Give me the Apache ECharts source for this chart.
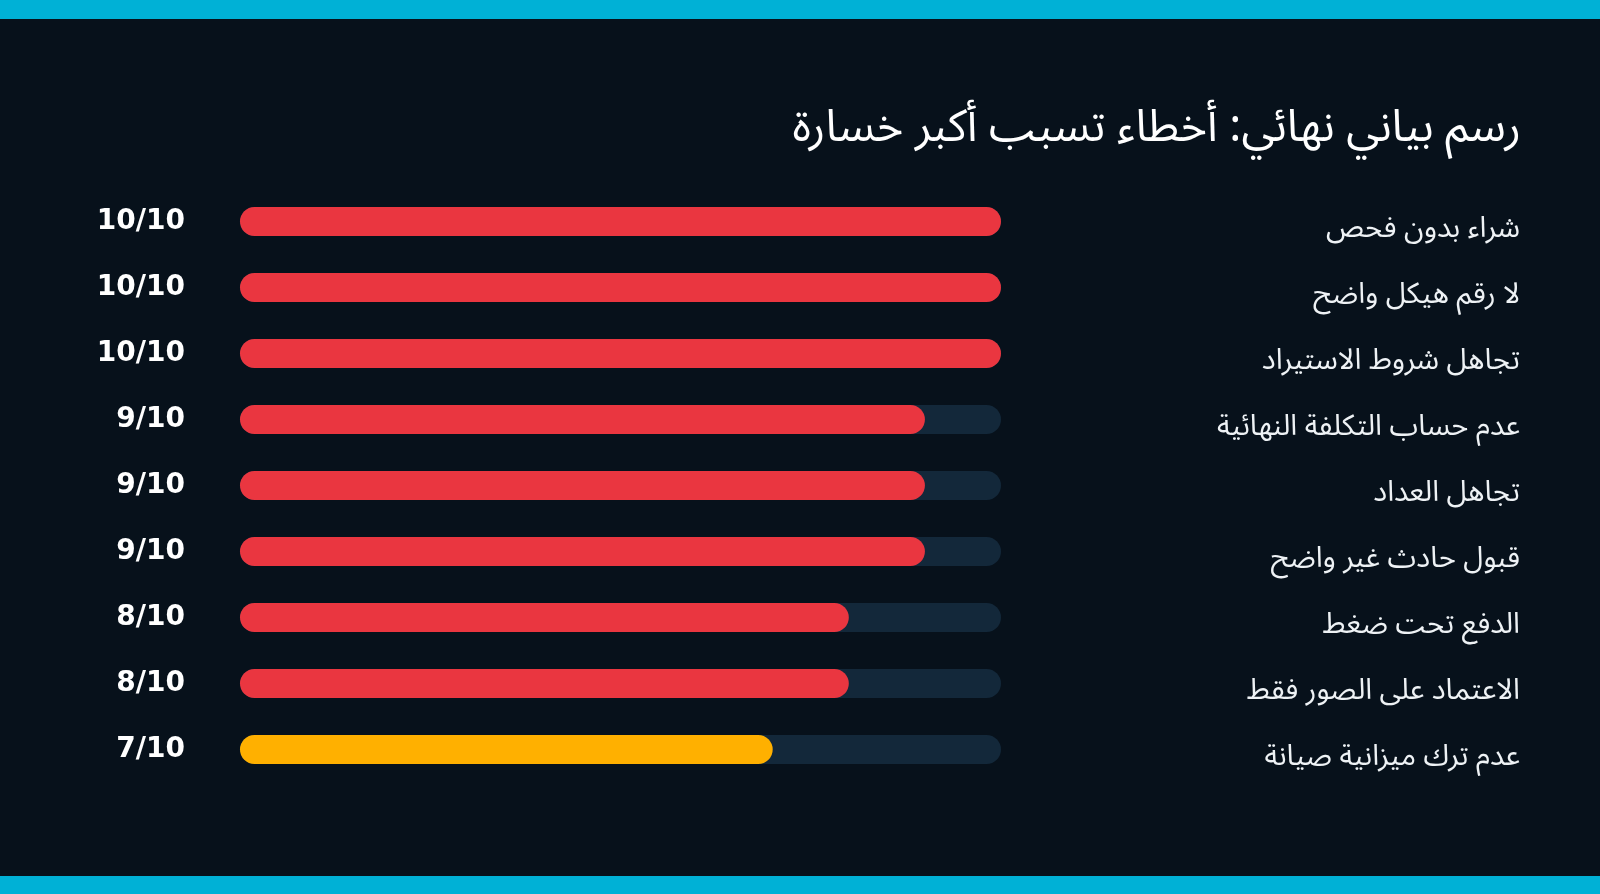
<!DOCTYPE html>
<html>
<head>
<meta charset="utf-8">
<script src="https://cdn.jsdelivr.net/npm/echarts@6/dist/echarts.min.js"></script>
<style>
html,body{margin:0;padding:0;background:#07111b;}
#chart{width:1600px;height:894px;}
</style>
</head>
<body>
<div id="chart"></div>
<script>
const titleText = 'رسم بياني نهائي: أخطاء تسبب أكبر خسارة';
const categories = [
  'شراء بدون فحص',
  'لا رقم هيكل واضح',
  'تجاهل شروط الاستيراد',
  'عدم حساب التكلفة النهائية',
  'تجاهل العداد',
  'قبول حادث غير واضح',
  'الدفع تحت ضغط',
  'الاعتماد على الصور فقط',
  'عدم ترك ميزانية صيانة'
];
const values = [10, 10, 10, 9, 9, 9, 8, 8, 7];
const maxScore = 10;
const valueLabels = values.map(v => v + '/' + maxScore);

const chart = echarts.init(document.getElementById('chart'));
const RED = '#ea3640', AMBER = '#ffb000', TRACK = '#13283a';
const ARABIC_FONT = '"Noto Sans Arabic"';
chart.setOption({
  backgroundColor: '#07111b',
  animation: false,
  title: {
    text: titleText,
    right: 74,
    top: 107,
    textStyle: {color: '#ffffff', fontSize: 45, fontWeight: 'normal', fontFamily: ARABIC_FONT}
  },
  graphic: [
    {type: 'rect', shape: {x: 0, y: 0, width: 1600, height: 19}, style: {fill: '#00b1d6'}},
    {type: 'rect', shape: {x: 0, y: 876, width: 1600, height: 18}, style: {fill: '#00b1d6'}}
  ],
  grid: {left: 240, right: 599, top: 188.5, bottom: 111.5, containLabel: false},
  xAxis: {type: 'value', min: 0, max: maxScore, show: false},
  yAxis: [
    {
      type: 'category', data: categories, inverse: true, position: 'right',
      axisLine: {show: false}, axisTick: {show: false}, splitLine: {show: false},
      axisLabel: {
        align: 'right', verticalAlign: 'top', lineHeight: 22, margin: 519,
        color: '#eef2f5', fontSize: 29, fontFamily: ARABIC_FONT
      }
    },
    {
      type: 'category', data: valueLabels, inverse: true, position: 'left',
      axisLine: {show: false}, axisTick: {show: false}, splitLine: {show: false},
      axisLabel: {
        margin: 55, color: '#ffffff', fontSize: 28, fontWeight: 'bold',
        fontFamily: 'DejaVu Sans', padding: [0, 0, 4, 0]
      }
    }
  ],
  series: [{
    type: 'bar',
    yAxisIndex: 0,
    data: values.map(v => ({value: v, itemStyle: {color: v >= 8 ? RED : AMBER}})),
    barWidth: 29,
    showBackground: true,
    backgroundStyle: {color: TRACK, borderRadius: 14.5},
    itemStyle: {borderRadius: 14.5}
  }]
});
</script>
</body>
</html>
